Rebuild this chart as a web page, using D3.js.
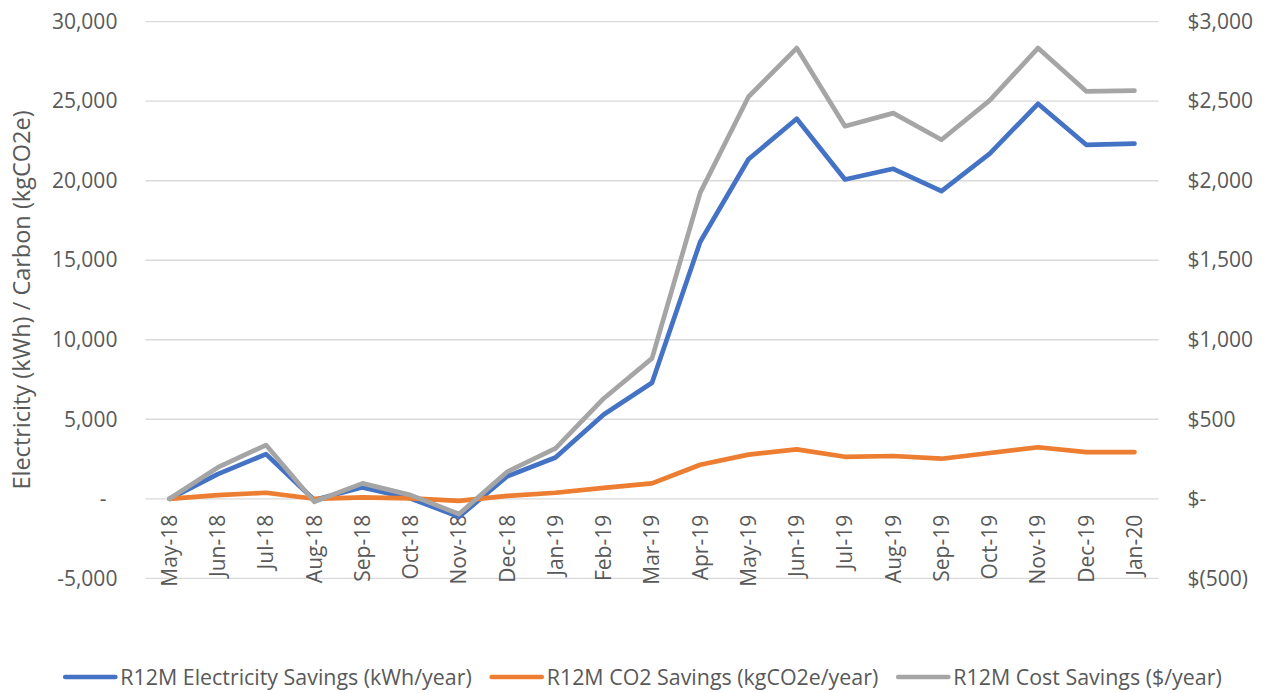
<!DOCTYPE html>
<html>
<head>
<meta charset="utf-8">
<script src="https://cdn.jsdelivr.net/npm/d3@7"></script>
<style>
  html, body { margin: 0; padding: 0; background: #fff; }
  svg { display: block; font-family: "Open Sans", "Noto Sans", sans-serif; }
</style>
</head>
<body>
<svg id="chart" width="1265" height="693"></svg>
<script>
const months = ["May-18","Jun-18","Jul-18","Aug-18","Sep-18","Oct-18","Nov-18","Dec-18","Jan-19","Feb-19","Mar-19","Apr-19","May-19","Jun-19","Jul-19","Aug-19","Sep-19","Oct-19","Nov-19","Dec-19","Jan-20"];
const electricity = [0,1550,2810,-80,720,20,-1130,1420,2600,5300,7300,16160,21350,23900,20080,20750,19350,21700,24840,22260,22330];
const co2 = [0,230,380,0,90,30,-130,180,380,690,970,2140,2780,3110,2640,2690,2520,2880,3240,2930,2930];
const cost = [0,197,338,-19,97,23,-96,170,317,631,883,1925,2528,2834,2342,2425,2258,2505,2834,2562,2566];
const leftTicks = [-5000,0,5000,10000,15000,20000,25000,30000];
const rightTicks = [-500,0,500,1000,1500,2000,2500,3000];
const seriesNames = ["R12M Electricity Savings (kWh/year)","R12M CO2 Savings (kgCO2e/year)","R12M Cost Savings ($/year)"];
const seriesColors = ["#4472C4","#ED7D31","#A5A5A5"];
const yTitle = "Electricity (kWh) / Carbon (kgCO2e)";

const svg = d3.select("#chart");
const textColor = "#595959";
const fontSize = 21;
const plot = {left: 145.4, right: 1158.6, top: 21.7, bottom: 578.3};

const x = d3.scaleBand().domain(months).range([plot.left, plot.right]).padding(0);
const yL = d3.scaleLinear().domain([-5000, 30000]).range([plot.bottom, plot.top]);
const yR = d3.scaleLinear().domain([-500, 3000]).range([plot.bottom, plot.top]);
const cx = m => x(m) + x.bandwidth() / 2;

// gridlines
svg.append("g").selectAll("line").data(leftTicks).join("line")
  .attr("x1", plot.left).attr("x2", plot.right)
  .attr("y1", d => yL(d)).attr("y2", d => yL(d))
  .attr("stroke", "#D9D9D9").attr("stroke-width", 1.3);

// left axis
const fmtL = d => d === 0 ? "-\u00a0\u00a0" : d3.format(",")(d).replace("−", "-");
const gL = svg.append("g").attr("transform", `translate(${plot.left},0)`)
  .call(d3.axisLeft(yL).tickValues(leftTicks).tickFormat(fmtL).tickSize(0).tickPadding(28));
gL.select(".domain").remove();
gL.selectAll("text").attr("fill", textColor).style("font-size", fontSize + "px").style("font-family", "'Open Sans', sans-serif");

// right axis
const fmtR = d => d === 0 ? "$-" : d < 0 ? "$(" + d3.format(",")(-d) + ")" : "$" + d3.format(",")(d);
const gR = svg.append("g").attr("transform", `translate(${plot.right},0)`)
  .call(d3.axisRight(yR).tickValues(rightTicks).tickFormat(fmtR).tickSize(0).tickPadding(29));
gR.select(".domain").remove();
gR.selectAll("text").attr("fill", textColor).style("font-size", fontSize + "px").style("font-family", "'Open Sans', sans-serif");

// bottom category labels (rotated)
const gX = svg.append("g").attr("transform", `translate(0,${yL(0)})`)
  .call(d3.axisBottom(x).tickSize(0).tickPadding(0));
gX.select(".domain").remove();
gX.selectAll("text")
  .attr("fill", textColor).style("font-size", fontSize + "px").style("font-family", "'Open Sans', sans-serif")
  .attr("text-anchor", "end")
  .attr("transform", "translate(0,16) rotate(-90)")
  .attr("x", 0).attr("y", 0).attr("dy", "0.35em");

// y title
svg.append("text")
  .attr("transform", `translate(22,${(plot.top + plot.bottom) / 2}) rotate(-90)`)
  .attr("text-anchor", "middle").attr("dy", "0.35em")
  .attr("fill", textColor).style("font-size", "23.5px")
  .text(yTitle);

// lines
const lineL = d3.line().x((d, i) => cx(months[i])).y(d => yL(d));
const lineR = d3.line().x((d, i) => cx(months[i])).y(d => yR(d));
const seriesData = [
  {vals: electricity, gen: lineL, color: seriesColors[0]},
  {vals: co2, gen: lineL, color: seriesColors[1]},
  {vals: cost, gen: lineR, color: seriesColors[2]}
];
svg.append("g").selectAll("path").data(seriesData).join("path")
  .attr("d", s => s.gen(s.vals))
  .attr("fill", "none").attr("stroke", s => s.color)
  .attr("stroke-width", 4.7).attr("stroke-linejoin", "round").attr("stroke-linecap", "round");

// legend
const legY = 677;
const leg = svg.append("g");
const items = seriesNames.map((n, i) => {
  const g = leg.append("g");
  g.append("line").attr("x1", 0).attr("x2", 50).attr("y1", 0).attr("y2", 0)
    .attr("stroke", seriesColors[i]).attr("stroke-width", 4.7).attr("stroke-linecap", "round");
  const t = g.append("text").attr("x", 55).attr("y", 0).attr("dy", "0.35em")
    .attr("fill", textColor).style("font-size", "21.4px").text(n);
  return {g, w: 55 + t.node().getComputedTextLength()};
});
const gap = 20;
const total = d3.sum(items, d => d.w) + gap * (items.length - 1);
let cur = (1265 - total) / 2 + 11;
items.forEach(it => { it.g.attr("transform", `translate(${cur},${legY})`); cur += it.w + gap; });
</script>
</body>
</html>
